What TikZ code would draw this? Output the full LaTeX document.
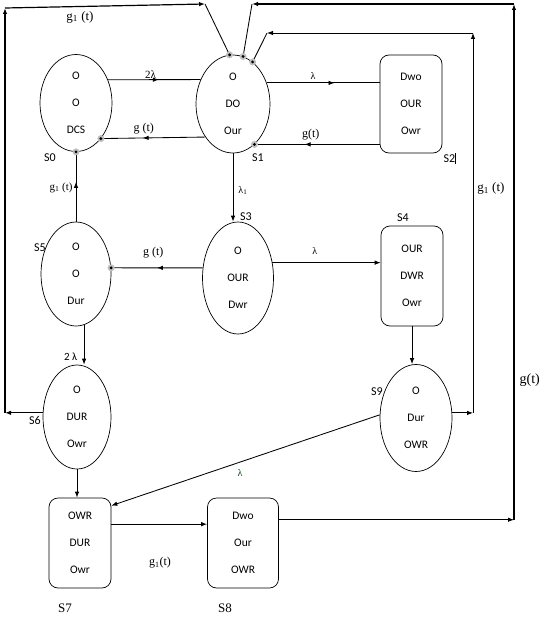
\documentclass[tikz,border=0pt]{standalone}
\usepackage{fontspec}
\setmainfont{Liberation Serif}
\newfontfamily\calib{Carlito}
\usetikzlibrary{shapes.geometric,arrows.meta,decorations.markings}

\tikzstyle{oval} = [draw, ellipse,
	line width=0.7pt,
	inner sep=0pt,
	align=center,
	font=\calib\fontsize{11.5}{27}\selectfont
	]
\tikzstyle{block} = [draw, rectangle,
	line width=0.7pt,
	rounded corners=9pt,
	inner sep=0pt,
	align=center,
	font=\calib\fontsize{11.5}{27}\selectfont
	]
\tikzstyle{pfeil} = [draw,
	-{Latex[length=6pt,width=4.5pt]}, line width=0.85pt
	]
\tikzstyle{linie} = [draw, line width=0.85pt]
\tikzstyle{lang} = [line width=1.2pt]
\tikzstyle{zname} = [font=\calib\fontsize{12}{14}\selectfont]
\tikzstyle{rate} = [font=\fontsize{12}{14}\selectfont, inner sep=1pt]
\tikzset{mitte/.style={postaction={decorate},
	decoration={markings,
		mark=at position #1 with {\arrow{Latex[length=6pt,width=4.5pt]}}}}}
\newcommand{\punkt}[1]{\fill[black!25] (#1) circle (3.5pt); \fill (#1) circle (1.6pt);}

\begin{document}
\begin{tikzpicture}[x=1pt, y=-1pt]
\useasboundingbox (0,0) rectangle (547,618);

    % states
    \node [oval, minimum width=72pt, minimum height=97pt]  (s0) at (76,103) {O\\O\\DCS};
    \node [oval, minimum width=74pt, minimum height=98pt]  (s1) at (233,104) {O\\DO\\Our};
    \node [block, minimum width=62pt, minimum height=98pt] (s2) at (411,104) {Dwo\\OUR\\Owr};
    \node [oval, minimum width=71pt, minimum height=112pt] (s3) at (238,278) {O\\OUR\\Dwr};
    \node [block, minimum width=62pt, minimum height=100pt] (s4) at (412,276) {OUR\\DWR\\Owr};
    \node [oval, minimum width=70pt, minimum height=104pt] (s5) at (76,274) {O\\O\\Dur};
    \node [oval, minimum width=68pt, minimum height=104pt] (s6) at (77,417) {O\\DUR\\Owr};
    \node [block, minimum width=62pt, minimum height=90pt] (s7) at (80,543) {OWR\\DUR\\Owr};
    \node [block, minimum width=71pt, minimum height=90pt] (s8) at (243,543) {Dwo\\Our\\OWR};
    \node [oval, minimum width=72pt, minimum height=107pt] (s9) at (416,418) {O\\Dur\\OWR};

    % state names
    \node [zname] (n0) at (50,158) {S0};
    \node [zname] (n1) at (258,158) {S1};
    \node [zname] (n2) at (450,158) {S2\rule[-1pt]{1.3pt}{11pt}};
    \node [zname] (n3) at (246,217) {S3};
    \node [zname] (n4) at (403,218) {S4};
    \node [zname] (n5) at (40,248) {S5};
    \node [zname] (n6) at (35,420) {S6};
    \node [zname] (n9) at (377,392) {S9};
    \node [font=\fontsize{13}{15}\selectfont] (n7) at (65,608) {S7};
    \node [font=\fontsize{13}{15}\selectfont] (n8) at (225,608) {S8};

    % top row
    \draw [linie, mitte=0.55] (s0.36) --
    	node[rate, above, pos=0.46, font=\fontsize{11}{13}\selectfont] (r01) {2λ} (s1.143);
    \draw [linie, mitte=0.6] (s1.230) --
    	node[rate, above=2pt, pos=0.59] (r10) {g (t)} (s0.305);
    \draw [linie, mitte=0.6] (s1.32) --
    	node[rate, above=2pt, pos=0.41, font=\fontsize{10}{12}\selectfont] (r12) {λ} (s1.32 -| s2.west);
    \draw [linie, mitte=0.6] (s1.298 -| s2.west) --
    	node[rate, above=3pt, pos=0.55] (r21) {g(t)} (s1.298);

    % middle
    \draw [linie, mitte=0.57] (s5.north) --
    	node[rate, left=2pt, pos=0.49, font=\fontsize{11}{13}\selectfont] (r50) {g\textsubscript{1} (t)} (s0.south);
    \draw [pfeil] (s1.south) --
    	node[rate, right=4pt, pos=0.54, font=\fontsize{10}{12}\selectfont] (r13) {λ\textsubscript{1}} (s1.south |- s3.north);
    \draw [linie, mitte=0.5] (s3.164) --
    	node[rate, above=8pt, pos=0.54] (r35) {g (t)} (s5.10);
    \draw [pfeil] (s3.24) --
    	node[rate, above=7pt, pos=0.39, font=\fontsize{10}{12}\selectfont] (r34) {λ} (s3.24 -| s4.west);
    \draw [pfeil] (s4.south) -- (s4.south |- s9.north);
    \draw [pfeil] (s5.-81) --
    	node[left=3pt, pos=0.8, font=\calib\fontsize{11}{13}\selectfont] (r56) {2 λ} (s5.-81 |- s6.north);

    % bottom
    \draw [pfeil] (s6.south) -- (s6.south |- s7.north);
    \draw [pfeil] (s9.175) --
    	node[rate, below=6pt, pos=0.52, text=green!30!black, font=\fontsize{10}{12}\selectfont] (r97) {λ} (s7.50);
    \draw [pfeil] (s7.31) -- (s7.31 -| s8.west);
    \node [rate] (r78) at (160,563) {g\textsubscript{1}(t)};

    % return paths
    \coordinate (la) at (5,8);
    \coordinate (lb) at (205,4);
    \draw [pfeil, lang] (s6.173) -- (s6.173 -| la);
    \draw [pfeil, lang] (s6.173 -| la) -- (la);
    \draw [pfeil, lang] (la) --
    	node[rate, below=3pt, pos=0.375, font=\fontsize{13}{15}\selectfont] (r61) {g\textsubscript{1} (t)} (lb);
    \draw [linie] (lb) -- (s1.94);

    \coordinate (mb) at (473,33);
    \coordinate (mc) at (267,33);
    \draw [pfeil] (s9.8) -- (s9.8 -| mb);
    \draw [pfeil] (s9.8 -| mb) --
    	node[rate, right=3pt, pos=0.59, font=\fontsize{13}{15}\selectfont] (r91) {g\textsubscript{1} (t)} (mb);
    \draw [pfeil] (mb) -- (mc);
    \draw [linie] (mc) -- (s1.65);

    \coordinate (rb) at (514,4);
    \coordinate (rc) at (252,4);
    \draw [pfeil] (s8.33) -- (s8.33 -| rb);
    \draw [pfeil, lang] (s8.33 -| rb) --
    	node[rate, right=4pt, pos=0.27, font=\fontsize{14}{16}\selectfont] (r81) {g(t)} (rb);
    \draw [pfeil, lang] (rb) -- (rc);
    \draw [linie] (rc) -- (s1.78);

    % dots
    \punkt{s1.94}
    \punkt{s1.78}
    \punkt{s1.65}
    \punkt{s1.298}
    \punkt{s0.305}
    \punkt{s0.south}
    \punkt{s5.10}
\end{tikzpicture}
\end{document}
